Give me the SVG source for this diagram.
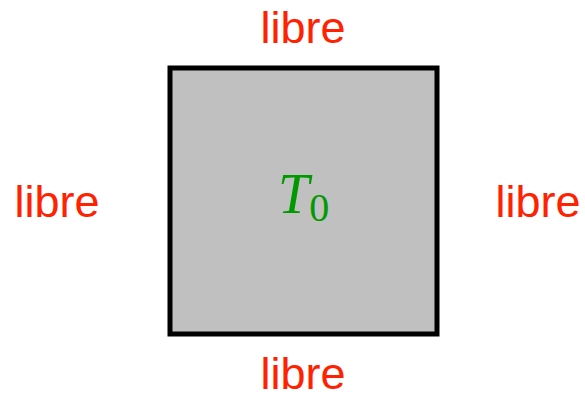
<svg xmlns="http://www.w3.org/2000/svg" width="585" height="399" viewBox="0 0 585 399">
<style>
.lbl{font-family:"Liberation Sans",Arial,sans-serif;font-size:45px;fill:#ff2200;text-anchor:middle}
.t{font-family:"Liberation Serif","Times New Roman",serif;fill:#009900}
</style>
<rect width="585" height="399" fill="#ffffff"/>
<g id="square">
<rect x="170" y="68" width="267" height="266" fill="#c0c0c0" stroke="#000000" stroke-width="5"/>
<text class="t" x="278" y="213" font-size="56" font-style="italic">T<tspan font-style="normal" font-size="40" dy="8">0</tspan></text>
</g>
<g id="top"><text class="lbl" x="303" y="43">libre</text></g>
<g id="left"><text class="lbl" x="57" y="217">libre</text></g>
<g id="right"><text class="lbl" x="538" y="217">libre</text></g>
<g id="bottom"><text class="lbl" x="303" y="389">libre</text></g>
</svg>
